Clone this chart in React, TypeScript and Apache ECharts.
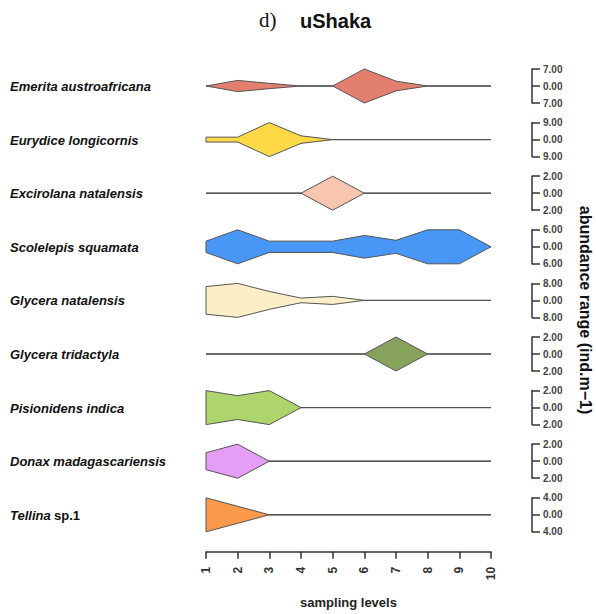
import React, { useEffect, useRef } from "react";
import * as echarts from "echarts";

const levels = [1, 2, 3, 4, 5, 6, 7, 8, 9, 10];
const species = [
  "Emerita austroafricana",
  "Eurydice longicornis",
  "Excirolana natalensis",
  "Scolelepis squamata",
  "Glycera natalensis",
  "Glycera tridactyla",
  "Pisionidens indica",
  "Donax madagascariensis",
  "Tellina",
];
const rangeMax = [7, 9, 2, 6, 8, 2, 2, 2, 4];
const emerita = [0, 2.3, 1.1, 0, 0, 7, 2, 0, 0, 0];
const eurydice = [1.3, 1.3, 9, 2, 0, 0, 0, 0, 0, 0];
const excirolana = [0, 0, 0, 0, 2, 0, 0, 0, 0, 0];
const scolelepis = [2, 6, 2, 2, 2, 4, 2.3, 6, 6, 0];
const glyceraNat = [6.5, 8, 4.2, 1.1, 1.9, 0, 0, 0, 0, 0];
const glyceraTri = [0, 0, 0, 0, 0, 0, 2, 0, 0, 0];
const pisionidens = [2, 1.4, 2, 0, 0, 0, 0, 0, 0, 0];
const donax = [1, 2, 0, 0, 0, 0, 0, 0, 0, 0];
const tellina = [4, 2, 0, 0, 0, 0, 0, 0, 0, 0];
const abundance = [emerita, eurydice, excirolana, scolelepis, glyceraNat, glyceraTri, pisionidens, donax, tellina];
const colors = ["#e27f6f", "#fcd945", "#f8c5b1", "#4896f5", "#fcefc7", "#87a25c", "#aed46c", "#e59ef6", "#fb9a4c"];

const FONT = "'Liberation Sans', Arial, sans-serif";
const ROW0 = 86;
const ROWSTEP = 53.6;
const HALF = 17;
const GRID_LEFT = 206;
const GRID_RIGHT = 105;

export default function App() {
  const ref = useRef<HTMLDivElement>(null);
  useEffect(() => {
    if (!ref.current) return;
    const chart = echarts.init(ref.current, null, { renderer: "svg" });
    const n = species.length;
    const grids: any[] = [];
    const xAxes: any[] = [];
    const yAxes: any[] = [];
    const series: any[] = [];
    const graphics: any[] = [];
    for (let i = 0; i < n; i++) {
      const yc = ROW0 + i * ROWSTEP;
      grids.push({ left: GRID_LEFT, right: GRID_RIGHT, top: yc - HALF, height: HALF * 2 });
      const last = i === n - 1;
      xAxes.push({
        gridIndex: i,
        type: "value",
        min: 1,
        max: 10,
        interval: 1,
        show: last,
        offset: 20,
        axisLine: { show: true, onZero: false, lineStyle: { color: "#333", width: 1.5 } },
        axisTick: { show: true, length: 7, lineStyle: { color: "#333", width: 1.5 } },
        axisLabel: {
          show: true,
          rotate: 90,
          margin: 15,
          fontFamily: FONT,
          fontWeight: "bold",
          fontSize: 12,
          color: "#333",
        },
        splitLine: { show: false },
        name: last ? "sampling levels" : "",
        nameLocation: "middle",
        nameGap: 44,
        nameTextStyle: { fontFamily: FONT, fontWeight: "bold", fontSize: 13, color: "#222" },
      });
      const m = rangeMax[i];
      yAxes.push({
        gridIndex: i,
        type: "value",
        position: "right",
        offset: 41,
        min: -m,
        max: m,
        interval: m,
        axisLine: { show: true, lineStyle: { color: "#333", width: 1.5 } },
        axisTick: { show: true, length: 8, lineStyle: { color: "#333", width: 1.5 } },
        axisLabel: {
          margin: 11,
          fontFamily: FONT,
          fontWeight: "bold",
          fontSize: 10,
          color: "#444",
          formatter: (v: number) => Math.abs(v).toFixed(2),
        },
        splitLine: { show: false },
      });
      const vals = abundance[i];
      const col = colors[i];
      series.push({
        type: "custom",
        xAxisIndex: i,
        yAxisIndex: i,
        data: [[1, 0]],
        encode: { x: 0, y: 1 },
        clip: false,
        renderItem: (params: any, api: any) => {
          const p1 = api.coord([levels[0], 0]);
          const p2 = api.coord([levels[levels.length - 1], 0]);
          const top = levels.map((lv, k) => api.coord([lv, vals[k]]));
          const bottom = levels.map((lv, k) => api.coord([lv, -vals[k]])).reverse();
          return {
            type: "group",
            children: [
              {
                type: "line",
                shape: { x1: p1[0], y1: p1[1], x2: p2[0], y2: p2[1] },
                style: { stroke: "#666", lineWidth: 1 },
              },
              {
                type: "polygon",
                shape: { points: top.concat(bottom) },
                style: { fill: col, stroke: "#555", lineWidth: 1, lineJoin: "round" },
              },
            ],
          };
        },
      });
      const isTellina = species[i] === "Tellina";
      graphics.push({
        type: "text",
        left: 10,
        top: yc - 6,
        style: {
          text: isTellina ? "{i|Tellina} {n|sp.1}" : "{i|" + species[i] + "}",
          rich: {
            i: { fontFamily: FONT, fontStyle: "italic", fontWeight: "bold", fontSize: 13, fill: "#111" },
            n: { fontFamily: FONT, fontWeight: "bold", fontSize: 13, fill: "#111" },
          },
        },
      });
    }
    graphics.push({
      type: "text",
      x: 585,
      y: 310,
      rotation: -Math.PI / 2,
      style: {
        text: "abundance range (ind.m\u22121)",
        fontFamily: FONT,
        fontWeight: "bold",
        fontSize: 16,
        fill: "#111",
        align: "center",
        verticalAlign: "middle",
      },
    });
    graphics.push({
      type: "text",
      x: 259,
      y: 20,
      style: {
        text: "d)",
        fontFamily: "'Liberation Serif', 'Times New Roman', serif",
        fontSize: 21,
        fill: "#111",
        verticalAlign: "middle",
      },
    });
    graphics.push({
      type: "text",
      x: 300,
      y: 21,
      style: {
        text: "uShaka",
        fontFamily: FONT,
        fontWeight: "bold",
        fontSize: 20,
        fill: "#111",
        verticalAlign: "middle",
      },
    });
    chart.setOption({
      animation: false,
      backgroundColor: "#ffffff",
      grid: grids,
      xAxis: xAxes,
      yAxis: yAxes,
      series,
      graphic: graphics,
    });
    return () => chart.dispose();
  }, []);
  return <div ref={ref} style={{ width: 596, height: 614, position: "absolute", left: 0, top: 0 }} />;
}
